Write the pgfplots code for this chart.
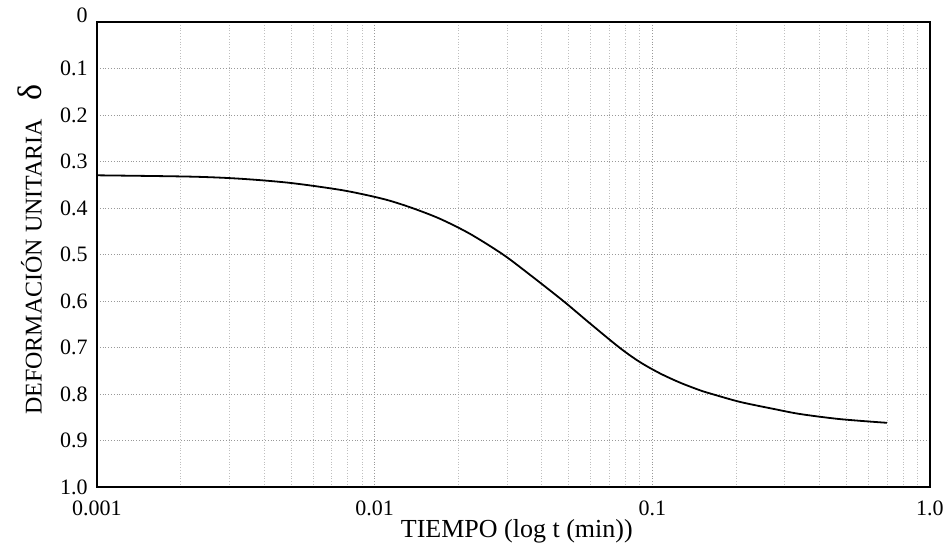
\documentclass[border=0pt]{standalone}
\usepackage{fontspec}
\setmainfont{Liberation Serif}
\usepackage{pgfplots}
\pgfplotsset{compat=1.18}
\usetikzlibrary{calc}

\begin{document}
\begin{tikzpicture}
\begin{axis}[
    name=ax,
    scale only axis,
    width=416.5pt,
    height=232.5pt,
    xmode=log,
    xmin=0.001, xmax=1,
    ymin=0, ymax=1,
    y dir=reverse,
    xtick={0.001,0.01,0.1,1},
    xticklabels={0.001,0.01,0.1,1.0},
    ytick={0,0.1,0.2,0.3,0.4,0.5,0.6,0.7,0.8,0.9,1},
    yticklabels={\raisebox{7pt}{0},0.1,0.2,0.3,0.4,0.5,0.6,0.7,0.8,0.9,1.0},
    minor y tick num=0,
    major tick length=0pt,
    minor tick length=0pt,
    grid=both,
    major grid style={densely dotted, black!40},
    minor grid style={densely dotted, black!25},
    axis line style={line width=0.9pt},
    tick label style={font=\fontsize{11}{13}\selectfont},
    yticklabel style={anchor=east, inner sep=0pt, xshift=-4.5pt},
    xticklabel style={anchor=north, inner sep=0pt, yshift=-6.5pt},
    xlabel={TIEMPO (log t (min))},
    xlabel style={at={(axis description cs:0.504,0)}, anchor=center,
        yshift=-22pt, font=\fontsize{13}{15}\selectfont},
    ylabel={DEFORMACIÓN UNITARIA\hspace{9pt}{\fontsize{17}{17}\selectfont δ}},
    ylabel style={at={(axis description cs:-0.0804,0.51)}, anchor=center,
        font=\fontsize{12}{14}\selectfont},
]
\addplot[black, line width=0.9pt, smooth] coordinates {
    (0.001,0.3297)
    (0.002162,0.3325)
    (0.003273,0.3370)
    (0.004956,0.3460)
    (0.007503,0.3609)
    (0.00962,0.3738)
    (0.01136,0.3845)
    (0.01374,0.4006)
    (0.01719,0.4232)
    (0.02204,0.4555)
    (0.02899,0.5)
    (0.03627,0.5437)
    (0.0478,0.6)
    (0.05964,0.6482)
    (0.07646,0.701)
    (0.09027,0.7314)
    (0.1066,0.7557)
    (0.1258,0.7755)
    (0.1485,0.7920)
    (0.164,0.8)
    (0.2069,0.8170)
    (0.272,0.8318)
    (0.3402,0.843)
    (0.4741,0.854)
    (0.7002,0.862)
};
\end{axis}
\pgfresetboundingbox
\path[use as bounding box] (ax.south west) ++(-48.5pt,-32.5pt) rectangle ($(ax.north east)+(10.5pt,11pt)$);
\end{tikzpicture}
\end{document}
